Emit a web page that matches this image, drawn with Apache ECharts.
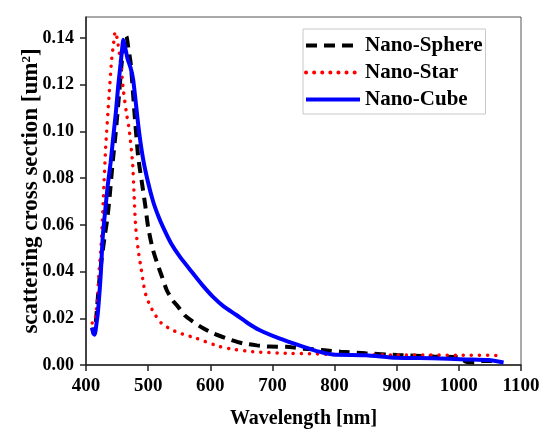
<!DOCTYPE html>
<html>
<head>
<meta charset="utf-8">
<script src="https://cdn.jsdelivr.net/npm/echarts@6/dist/echarts.min.js"></script>
<style>html,body{margin:0;padding:0;background:#fff}#c{width:542px;height:429px}</style>
</head>
<body>
<div id="c"></div>
<script>
var seriesNames = ['Nano-Sphere', 'Nano-Star', 'Nano-Cube'];
var yTicks = [0, 0.02, 0.04, 0.06, 0.08, 0.10, 0.12, 0.14];

var sphere = [
  [410,0.016],[412,0.0135],[414,0.014],[417,0.022],[421,0.035],[425,0.045],[430,0.055],[434,0.062],
  [438,0.072],[443,0.087],[448,0.100],[452,0.112],[457,0.128],[461,0.138],[465,0.1407],[468,0.136],
  [472,0.129],[478,0.108],[484,0.089],[490,0.078],[495,0.069],[500,0.059],[507,0.050],[514,0.044],
  [522,0.038],[530,0.032],[540,0.0275],[548,0.025],[560,0.021],[572,0.0186],[588,0.0158],[604,0.0136],
  [628,0.0112],[652,0.0093],[675,0.0084],[695,0.0079],[722,0.0078],
  [750,0.0070],[780,0.0064],[810,0.0057],[850,0.0050],[900,0.0043],[960,0.0036],[1000,0.0033],
  [1012,0.0013],[1025,0.0011],[1040,0.0018],[1065,0.0017]
];
var star = [
  [410,0.018],[413,0.018],[416,0.022],[419,0.030],[421,0.040],[424,0.050],[426,0.060],[428,0.072],
  [431.6,0.093],[437,0.115],[441,0.130],[444,0.137],[447,0.1427],[450,0.140],[456,0.129],[460,0.118],
  [465,0.108],[469.5,0.1007],[475,0.0866],[477.5,0.072],[480,0.059],[484,0.0493],[489,0.0407],[493,0.034],
  [497,0.0293],[503,0.0255],[510,0.022],[521,0.018],[535,0.0155],[548,0.0139],[578,0.0114],[615,0.0079],
  [640,0.0066],[668,0.0057],[722,0.0050],[765,0.0048],[800,0.0045],[900,0.0043],[1000,0.0042],[1067,0.0041]
];
var cube = [
  [410,0.016],[412,0.0135],[414,0.013],[417,0.018],[419,0.022],[422,0.032],[424,0.040],[427,0.055],
  [430.5,0.065],[435,0.077],[439.6,0.0866],[444,0.098],[448,0.108],[452,0.120],[455.7,0.129],[458,0.135],
  [460,0.1393],[463,0.136],[467,0.131],[472,0.127],[476,0.122],[485,0.1007],[492,0.088],[500,0.078],
  [508,0.070],[516,0.064],[524,0.059],[537,0.052],[551,0.0464],[572,0.0393],[588,0.034],[604,0.0293],
  [622,0.025],[642,0.0214],[660,0.018],[679,0.015],[711,0.0114],[749,0.0079],[775,0.0057],[797,0.0045],
  [851,0.0042],[899,0.0031],[957,0.0029],[1011,0.0024],[1048,0.0021],[1072,0.0011]
];

var FONT = "'Liberation Serif','Times New Roman',serif";
var chart = echarts.init(document.getElementById('c'), null, {renderer: 'canvas'});
chart.setOption({
  backgroundColor: '#fff',
  animation: false,
  grid: {left: 86, right: 21, top: 17, bottom: 64, show: true, borderColor: '#555', borderWidth: 1,
    outerBoundsMode: 'none', containLabel: false},
  legend: {
    data: seriesNames,
    orient: 'vertical',
    left: 303, top: 29,
    itemWidth: 54, itemHeight: 14, itemGap: 6,
    padding: [6, 3, 4, 1],
    borderColor: '#c8c8c8', borderWidth: 1,
    itemStyle: {opacity: 0, color: 'transparent', borderWidth: 0},
    lineStyle: {width: 4},
    textStyle: {fontFamily: FONT, fontWeight: 'bold', fontSize: 21, color: '#000', lineHeight: 20}
  },
  xAxis: {
    type: 'value', min: 400, max: 1100, interval: 100,
    name: 'Wavelength [nm]', nameLocation: 'middle', nameGap: 44, nameMoveOverlap: false,
    nameTextStyle: {fontFamily: FONT, fontWeight: 'bold', fontSize: 20, color: '#000'},
    axisLine: {lineStyle: {color: '#222', width: 1.5}},
    axisTick: {show: true, length: 6, lineStyle: {color: '#222', width: 1.5}},
    axisLabel: {fontFamily: FONT, fontWeight: 'bold', fontSize: 19, color: '#000', margin: 12,
      formatter: function (v) { return String(v); }},
    splitLine: {show: false}
  },
  yAxis: {
    type: 'value', min: 0, max: 0.149,
    name: 'scattering cross section [um{sup|2}]', nameLocation: 'middle', nameGap: 43, nameMoveOverlap: false,
    nameTextStyle: {fontFamily: FONT, fontWeight: 'bold', fontSize: 23, color: '#000',
      rich: {sup: {fontFamily: FONT, fontWeight: 'bold', fontSize: 13, color: '#000', verticalAlign: 'top', padding: [0,0,10,0]}}},
    axisLine: {show: true, lineStyle: {color: '#222', width: 1.5}},
    axisTick: {show: true, length: 6, customValues: yTicks, lineStyle: {color: '#222', width: 1.5}},
    axisLabel: {customValues: yTicks, fontFamily: FONT, fontWeight: 'bold', fontSize: 18, color: '#000', margin: 12,
      formatter: function (v) { return v.toFixed(2); }},
    splitLine: {show: false}
  },
  series: [
    {name: seriesNames[0], type: 'line', data: sphere, symbol: 'none', smooth: 0.2,
      lineStyle: {color: '#000', width: 4, type: [11, 7]}, itemStyle: {color: '#000'}},
    {name: seriesNames[1], type: 'line', data: star, symbol: 'none', smooth: 0.2,
      lineStyle: {color: '#f00', width: 3.5, type: [0.1, 8], cap: 'round'}, itemStyle: {color: '#f00'}},
    {name: seriesNames[2], type: 'line', data: cube, symbol: 'none', smooth: 0.2,
      lineStyle: {color: '#0000ff', width: 4}, itemStyle: {color: '#0000ff'}}
  ]
});
</script>
</body>
</html>
